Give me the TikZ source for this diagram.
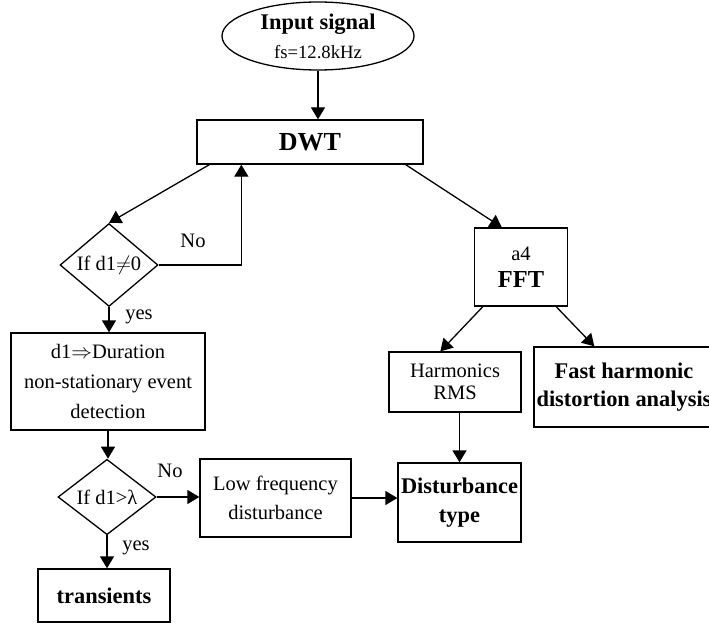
\documentclass[tikz,border=0pt]{standalone}
\usepackage{fontspec}
\setmainfont{Liberation Serif}
\usetikzlibrary{arrows.meta,shapes.geometric,calc}
\begin{document}
\begin{tikzpicture}[x=1pt,y=-1pt,
  lw/.style={line width=1.3pt},
  box/.style={draw,lw,rectangle,inner sep=0pt,align=center,font=\fontsize{20.5}{30}\selectfont},
  bbox/.style={box,font=\fontsize{22.4}{29}\selectfont\bfseries},
  dia/.style={draw,lw,diamond,inner sep=0pt,align=center,font=\fontsize{20.5}{24}\selectfont},
  lbl/.style={inner sep=0pt,font=\fontsize{20.5}{24}\selectfont},
  arr/.style={lw,-{Triangle[length=12pt,width=14pt]}},
  ln/.style={lw}
]
\useasboundingbox (0,0) rectangle (709,623);
\clip (0,0) rectangle (709,623);

\node[draw,lw,ellipse,inner sep=0pt,minimum width=192pt,minimum height=68pt,align=center,
  font=\fontsize{22.4}{29}\selectfont] (in) at (318,36)
  {\bfseries Input signal\\{\fontsize{18.7}{29}\selectfont fs=12.8kHz}};

\node[box,minimum width=226pt,minimum height=44pt,font=\fontsize{26}{30}\selectfont\bfseries] (dwt) at (310,142) {DWT};

\node[dia,minimum width=98pt,minimum height=77pt] (d1) at (109,265) {If d1$\neq$0};

\node[box,minimum width=194pt,minimum height=97pt] (dur) at (108,381.5)
  {d1$\Rightarrow$Duration\\non-stationary event\\detection};

\node[dia,minimum width=98pt,minimum height=75pt] (d2) at (107,497) {If d1>λ};

\node[box,minimum width=151pt,minimum height=78pt,font=\fontsize{20.5}{29}\selectfont] (lf) at (275.5,498)
  {Low frequency\\disturbance};

\node[bbox,minimum width=123pt,minimum height=79pt] (dist) at (459.5,502.5) {Disturbance\\type};

\node[bbox,minimum width=132pt,minimum height=53pt] (tr) at (104,595.5) {transients};

\node[box,minimum width=93pt,minimum height=78pt,font=\fontsize{20.5}{27}\selectfont] (fft) at (521,267)
  {a4\\{\fontsize{24.4}{27}\selectfont\bfseries FFT}};

\node[box,minimum width=132pt,minimum height=60pt,font=\fontsize{20.5}{22}\selectfont] (harm) at (455,382)
  {Harmonics\\RMS};

\node[bbox,minimum width=180pt,minimum height=80pt,font=\fontsize{22.4}{28}\selectfont\bfseries] (fast) at (624,387)
  {Fast harmonic\\distortion analysis};

% connectors
\coordinate (loop) at ($(dwt.south west)+(45,0)$);
\draw[arr] (in.south) -- (in.south |- dwt.north);
\draw[arr] ($(dwt.south west)+(13,0)$) -- (d1.north);
\draw[arr] (d1.east) -| (loop);
\draw[arr] (d1.south) -- (d1.south |- dur.north);
\draw[arr] (dur.south) -- (dur.south |- d2.north);
\draw[arr] (d2.east) -- (d2.east -| lf.west);
\draw[arr] (d2.south) -- (d2.south |- tr.north);
\draw[arr] (lf.east) -- (lf.east -| dist.west);
\draw[arr] ($(dwt.south east)+(-18,0)$) -- ($(fft.north west)+(28,0)$);
\draw[arr] ($(fft.south west)+(9,0)$) -- ($(harm.north west)+(52,0)$);
\draw[arr] ($(fft.south east)+(-12,0)$) -- ($(fast.north west)+(61,0)$);
\draw[arr] (harm.south -| dist.north) -- (dist.north);

% labels
\node[lbl] (no1) at (193,241) {No};
\node[lbl] (yes1) at (139,317) {yes};
\node[lbl] (no2) at (170,471) {No};
\node[lbl] (yes2) at (136,548) {yes};
\end{tikzpicture}
\end{document}
